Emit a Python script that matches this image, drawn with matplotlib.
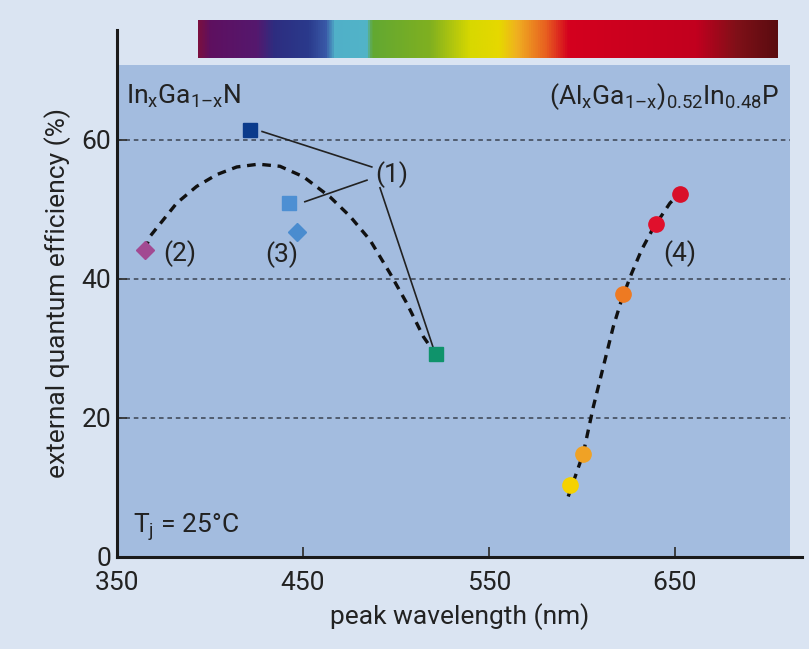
import numpy as np
import matplotlib
matplotlib.use('Agg')
import matplotlib.pyplot as plt
from matplotlib.patches import Rectangle
from matplotlib.colors import LinearSegmentedColormap

plt.rcParams['font.family'] = ['Roboto', 'DejaVu Sans']
plt.rcParams['mathtext.fontset'] = 'custom'
plt.rcParams['mathtext.rm'] = 'Roboto'
plt.rcParams['mathtext.it'] = 'Roboto:italic'

# InGaN devices
ingan_wl = [365, 421.5, 442.5, 447, 521.5]
ingan_eqe = [44.2, 61.4, 50.9, 46.8, 29.2]
ingan_marker = ['D', 's', 's', 'D', 's']
ingan_color = ['#a24a92', '#0b3b8c', '#4d8fd3', '#4a8ccf', '#0f936b']

# AlGaInP devices
algainp_wl = [593.5, 600.5, 622, 640, 652.7]
algainp_eqe = [10.4, 14.8, 37.8, 47.9, 52.2]
algainp_color = ['#f5d200', '#f0a225', '#ee7a22', '#e0102c', '#d90f2a']

# dashed trend lines
trend1_wl = [365.1, 367.7, 374.9, 382.1, 392.8, 403.6, 414.4, 426.0, 437.6, 450.2,
             464.5, 475.3, 486.0, 496.8, 505.8, 514.7, 518.3]
trend1_eqe = [44.2, 46.1, 48.5, 50.9, 53.3, 55.0, 56.1, 56.5, 56.2, 54.7,
              51.8, 49.0, 45.6, 40.8, 36.5, 31.7, 30.3]
trend2_wl = [592.6, 600.7, 606.1, 611.5, 616.8, 621.3, 626.7, 632.1, 638.3, 647.3, 651.8]
trend2_eqe = [8.7, 14.9, 21.6, 27.4, 33.1, 37.0, 40.8, 44.2, 47.3, 50.9, 52.1]

fig = plt.figure(figsize=(8.09, 6.49), dpi=100)
fig.patch.set_facecolor('#dae4f2')

ax = fig.add_axes([117 / 809, 1 - 557 / 649, 685 / 809, 527 / 649])
ax.set_facecolor('none')
ax.set_xlim(350, 718.3)
ax.set_ylim(0, 75.8)

# coloured plot area
ax.add_patch(Rectangle((350, 0), 361.8, 70.8, facecolor='#a3bcdf', edgecolor='none', zorder=0))
for y in [20, 40, 60]:
    ax.plot([350, 711.8], [y, y], ls=(0, (3, 2.5)), color='#3a4250', lw=1.1, zorder=1)

for s in ['top', 'right']:
    ax.spines[s].set_visible(False)
for s in ['left', 'bottom']:
    ax.spines[s].set_linewidth(2.2)
    ax.spines[s].set_color('#1a1a1a')

ax.set_xticks([350, 450, 550, 650])
ax.set_yticks([0, 20, 40, 60])
ax.tick_params(direction='in', length=7, width=1.3, color='#333333', labelsize=19,
               labelcolor='#222222', pad=4)
ax.tick_params(axis='x', pad=10)
ax.set_xlabel('peak wavelength (nm)', fontsize=19, color='#222222', labelpad=6)
ax.set_ylabel('external quantum efficiency (%)', fontsize=19, color='#222222', labelpad=8)

# trends
ax.plot(trend1_wl, trend1_eqe, ls=(0, (2.6, 2.0)), color='#111111', lw=2.4, zorder=2)
ax.plot(trend2_wl, trend2_eqe, ls=(0, (2.6, 2.0)), color='#111111', lw=2.4, zorder=2)

# leader lines for (1)
ax.plot([428, 487], [61.2, 56.1], color='#222222', lw=1.2, zorder=2)
ax.plot([451, 484.4], [51.1, 54.2], color='#222222', lw=1.2, zorder=2)
ax.plot([491.4, 519.9], [53.1, 30.2], color='#222222', lw=1.2, zorder=2)

for x, y, m, c in zip(ingan_wl, ingan_eqe, ingan_marker, ingan_color):
    ax.plot(x, y, marker=m, color=c, ms=10 if m == 's' else 9, ls='none', zorder=3)
for x, y, c in zip(algainp_wl, algainp_eqe, algainp_color):
    ax.plot(x, y, marker='o', color=c, ms=11, ls='none', zorder=3)

txt = dict(fontsize=19, color='#222222')
ax.text(497.8, 55.0, '(1)', ha='center', va='center', **txt)
ax.text(383.9, 43.6, '(2)', ha='center', va='center', **txt)
ax.text(438.7, 43.5, '(3)', ha='center', va='center', **txt)
ax.text(652.7, 43.6, '(4)', ha='center', va='center', **txt)
ax.text(355, 66.3, '$\\mathrm{In_xGa_{1\u2013x}N}$', ha='left', va='center', **txt)
ax.text(706, 66.3, '$\\mathrm{(Al_xGa_{1\u2013x})_{0.52}In_{0.48}P}$', ha='right', va='center', **txt)
ax.text(358.5, 4.3, r'$\mathrm{T_j}$ = 25°C', ha='left', va='center', **txt)

# visible spectrum bar
spec_stops = [0.0, 0.02, 0.10, 0.13, 0.19, 0.22, 0.235, 0.29, 0.30, 0.40, 0.47, 0.52,
              0.55, 0.60, 0.64, 0.86, 0.93, 1.0]
spec_colors = ['#7a0f40', '#5e1060', '#55186e', '#2e2d80', '#2a3a8c', '#3a5aa8', '#50b0c8',
               '#52b4c8', '#62a832', '#80b020', '#d8d800', '#e6d800', '#f0b020', '#e86020',
               '#d4001e', '#c2001f', '#801018', '#5a0c10']
cmap = LinearSegmentedColormap.from_list('spec', list(zip(spec_stops, spec_colors)))
bax = fig.add_axes([198 / 809, 1 - 58 / 649, 580 / 809, 38 / 649])
bax.imshow(np.linspace(0, 1, 512)[None, :], aspect='auto', cmap=cmap)
bax.axis('off')

fig.savefig('out.png', dpi=100, facecolor=fig.get_facecolor())
